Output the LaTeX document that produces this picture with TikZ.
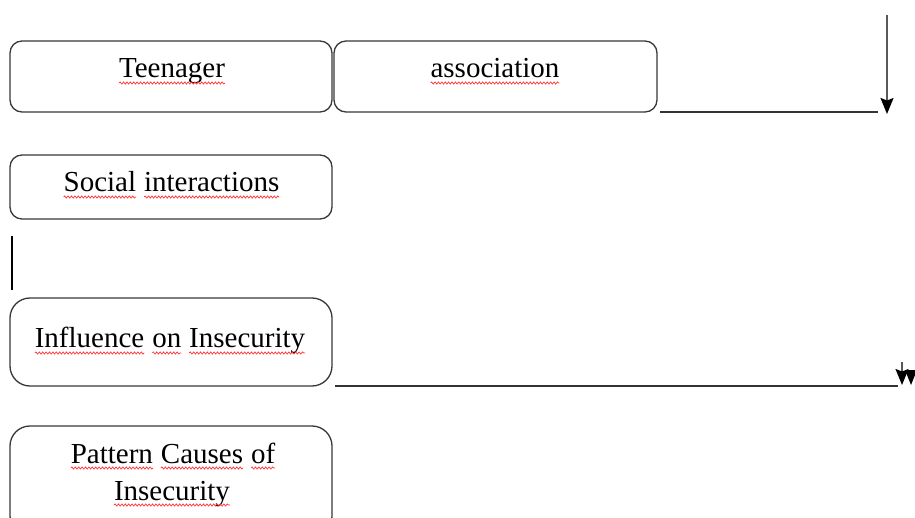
\documentclass[tikz,border=0pt]{standalone}
\usepackage{fontspec}
\setmainfont{Liberation Serif}
\usetikzlibrary{arrows.meta,decorations.pathmorphing}
\newcommand\wv[1]{\tikz[baseline=(w.base)]{\node[inner sep=0pt,outer sep=0pt,draw=none](w){#1};\draw[draw=red!80!white,line width=0.7pt,decorate,decoration={snake,amplitude=1.1pt,segment length=3.4pt}]([yshift=-5pt]w.base west)--([yshift=-5pt]w.base east);}}
\begin{document}
\begin{tikzpicture}[x=1pt,y=-1pt,
  box/.style={draw=black!78,line width=1.3pt,rounded corners=#1,inner sep=0pt,outer sep=0pt},
  box/.default=12pt,
  lbl/.style={inner sep=0pt,outer sep=0pt,anchor=base,font=\fontsize{29}{37}\selectfont},
  ln/.style={draw=black!80,line width=1.3pt},
  arr/.style={draw=black!65,line width=1.6pt,-{Stealth[length=16pt,width=13pt,inset=2.5pt,fill=black,color=black]}}]
\useasboundingbox (0,0) rectangle (915,518);
% boxes
\node[box,minimum width=322pt,minimum height=71pt] (teen) at (171,76.5) {};
\node[box,minimum width=323pt,minimum height=71pt] (assoc) at (495.5,76.5) {};
\node[box,minimum width=322pt,minimum height=64pt] (social) at (171,187) {};
\node[box=20pt,minimum width=322pt,minimum height=88pt] (infl) at (171,342) {};
\begin{scope}
\clip (0,0) rectangle (915,518);
\node[box=20pt,minimum width=322pt,minimum height=110pt] (patt) at (171,481) {};
\end{scope}
% labels
\node[lbl] (tteen) at (172,78) {\wv{Teenager}};
\node[lbl] (tassoc) at (495,78) {\wv{association}};
\node[lbl] (tsocial) at (171.5,192) {\wv{Social} \wv{interactions}};
\node[lbl] (tinfl) at (170,348) {\wv{Influence} \wv{on} \wv{Insecurity}};
\node[lbl] (tpatt1) at (173,463) {\wv{Pattern} \wv{Causes} \wv{of}};
\node[lbl] (tpatt2) at (172,500) {\wv{Insecurity}};
% connectors
\coordinate (h1a) at (660,112);
\coordinate (h1b) at (878,112);
\coordinate (a1s) at (887,15);
\coordinate (a1e) at (887,114);
\coordinate (v1a) at (12,236);
\coordinate (v1b) at (12,290);
\coordinate (h2a) at (335,386);
\coordinate (h2b) at (898,386);
\coordinate (a2s) at (902,362);
\coordinate (a2e) at (902,385);
\coordinate (a3) at (911,385);
\draw[ln] (h1a) -- (h1b);
\draw[arr] (a1s) -- (a1e);
\draw[draw=black,line width=1.3pt] (v1a) -- (v1b);
\draw[ln] (h2a) -- (h2b);
\draw[arr] (a2s) -- (a2e);
\fill[black] (a3) -- ++(-6,-15) -- ++(12,0) -- cycle;
\end{tikzpicture}
\end{document}
